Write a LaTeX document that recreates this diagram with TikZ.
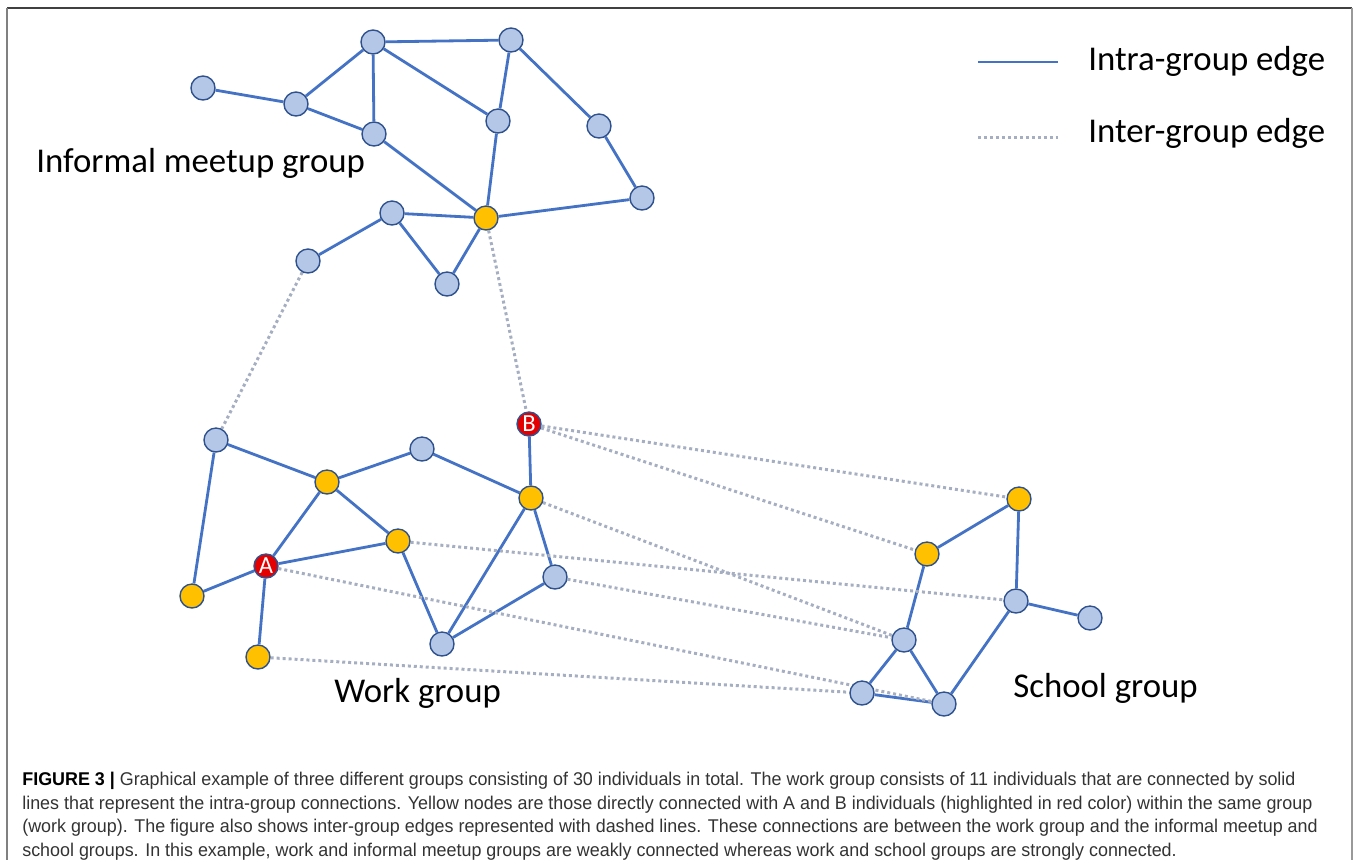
\documentclass[tikz,border=0pt]{standalone}
\usepackage{fontspec}
\setmainfont{Carlito}
\newfontfamily\capfont[FakeStretch=0.97]{Liberation Sans}
\usetikzlibrary{backgrounds}
\definecolor{edgeblue}{RGB}{68,114,196}
\definecolor{nodeblue}{RGB}{180,199,231}
\definecolor{rimblue}{RGB}{47,82,143}
\definecolor{gold}{RGB}{255,192,0}
\definecolor{hired}{RGB}{228,0,0}
\definecolor{intergray}{RGB}{166,174,194}
\tikzset{
    person/.style={circle, draw=rimblue, line width=0.8pt, fill=nodeblue, minimum size=0.48cm, inner sep=0pt},
    friend/.style={person, fill=gold},
    focus/.style={person, fill=hired, text=white, font=\fontsize{14}{14}\selectfont},
    intra/.style={edgeblue, line width=1.6pt},
    inter/.style={intergray, line width=1.7pt, dash pattern=on 1.7pt off 1.7pt},
    grouplabel/.style={anchor=base west, inner sep=0pt, font=\fontsize{19.8}{24}\selectfont},
    capline/.style={anchor=base west, inner sep=0pt, text=black!80, font=\capfont\fontsize{10.5}{12}\selectfont}
}
\begin{document}
        \begin{tikzpicture}[x=0.02cm, y=-0.02cm]
            \useasboundingbox (0,0) rectangle (1358,860);
            \draw[black!75, line width=1.1pt] (7,8) -- (1352,8);
            \draw[black!50, line width=1.1pt] (7,8) -- (7,860);
            \draw[black!40, line width=0.6pt] (1352,8) -- (1352,860);
            \foreach \n/\px/\py in {i1/373/42, i2/511/40, i3/203/88, i4/296/104, i5/374/134,
                i6/498/121, i7/599/126, i8/642/198, i9/392/213, i10/308/261, i11/447/284,
                w1/216/440, w3/422/449, w8/442/644, w9/555/577,
                s3/1016/601, s4/1090/618, s5/904/640, s6/862/693, s7/944/704}
            {
                \node[person] (\n) at (\px,\py) {};
            }
            \foreach \n/\px/\py in {iy/486/218, w2/327/482, w4/531/498, w5/398/541,
                w6/192/596, w7/258/657, s1/1019/499, s2/927/554}
            {
                \node[friend] (\n) at (\px,\py) {};
            }
            \node[focus] (wa) at (266,566) {A};
            \node[focus] (wb) at (529,424) {B};
            \begin{scope}[on background layer]
                \foreach \a/\b in {i3/i4, i4/i1, i4/i5, i1/i5, i1/i2, i1/i6, i2/i6, i2/i7,
                    i7/i8, i5/iy, i6/iy, i8/iy, i9/iy, i9/i10, i9/i11, i11/iy,
                    w1/w2, w1/w6, w2/w3, w3/w4, wb/w4, w2/wa, w2/w5, wa/w5, wa/w6, wa/w7,
                    w5/w8, w4/w8, w4/w9, w8/w9,
                    s1/s2, s1/s3, s2/s5, s3/s4, s3/s7, s5/s6, s5/s7, s6/s7}
                \draw[intra] (\a) -- (\b);
                \foreach \a/\b in {i10/w1, iy/wb, wb/s1, wb/s2, w4/s5, w5/s3, w9/s5, wa/s7, w7/s6}
                \draw[inter] (\a) -- (\b);
            \end{scope}
            \node[grouplabel] (meetup) at (36,172) {Informal meetup group};
            \node[grouplabel] (work) at (334,702) {Work group};
            \node[grouplabel] (school) at (1013,697) {School group};
            \coordinate (solidL) at (978,62);
            \coordinate (solidR) at (1058,62);
            \coordinate (dotL) at (978,137);
            \coordinate (dotR) at (1058,137);
            \draw[intra] (solidL) -- (solidR);
            \draw[inter] (dotL) -- (dotR);
            \node[grouplabel] (intrakey) at (1088,70) {Intra-group edge};
            \node[grouplabel] (interkey) at (1088,142) {Inter-group edge};
            \node[capline] (cap1) at (22,785) {\textcolor{black}{\textbf{FIGURE 3 |}} Graphical example of three different groups consisting of 30 individuals in total. The work group consists of 11 individuals that are connected by solid};
            \node[capline] (cap2) at (22,809) {lines that represent the intra-group connections. Yellow nodes are those directly connected with A and B individuals (highlighted in red color) within the same group};
            \node[capline] (cap3) at (22,832) {(work group). The figure also shows inter-group edges represented with dashed lines. These connections are between the work group and the informal meetup and};
            \node[capline] (cap4) at (22,856) {school groups. In this example, work and informal meetup groups are weakly connected whereas work and school groups are strongly connected.};
        \end{tikzpicture}
\end{document}
